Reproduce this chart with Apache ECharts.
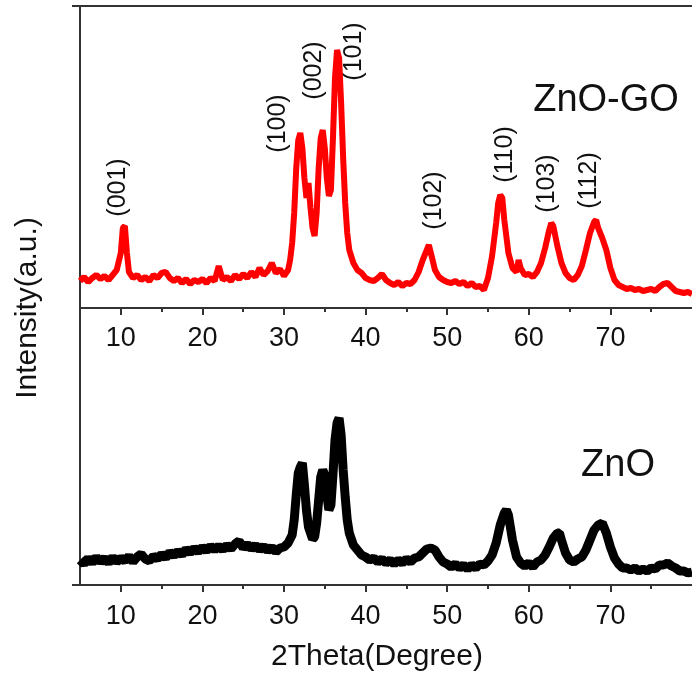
<!DOCTYPE html>
<html>
<head>
<meta charset="utf-8">
<script src="https://cdn.jsdelivr.net/npm/echarts@6/dist/echarts.min.js"></script>
<style>
html,body{margin:0;padding:0;background:#fff;}
#chart{width:692px;height:675px;}
</style>
</head>
<body>
<div id="chart"></div>
<script>
// ---- data (2Theta in degrees, intensity in arbitrary units) ----
const tickValues = [10, 20, 30, 40, 50, 60, 70];
const minorTickValues = [15, 25, 35, 45, 55, 65, 75];

const znoGO = [
[5,27],[5.5,31],[6,26],[6.5,30],[7,33],[7.5,29],[8,32],[8.5,28],[9,33],[9.5,38],
[10,55],[10.25,80],[10.5,82],[10.75,55],[11,36],[11.5,30],[12,33],[12.5,28],[13,31],[13.5,27],
[14,33],[14.5,30],[15,35],[15.5,36],[16,30],[16.5,27],[17,30],[17.5,25],[18,29],[18.5,24],
[19,28],[19.5,26],[20,29],[20.5,25],[21,30],[21.5,27],[22,42],[22.5,28],[23,31],[23.5,27],
[24,33],[24.5,29],[25,34],[25.5,30],[26,36],[26.5,31],[27,40],[27.5,33],[28,37],[28.5,45],
[29,35],[29.5,39],[30,32],[30.5,38],[30.75,48],[31,65],[31.25,95],[31.5,140],[31.75,168],[32,175],
[32.25,160],[32.5,130],[32.75,110],[33,125],[33.25,100],[33.5,80],[33.75,72],[34,95],[34.25,140],[34.5,170],
[34.75,178],[35,160],[35.25,130],[35.5,112],[35.75,118],[36,170],[36.25,230],[36.5,258],[36.75,250],[37,205],
[37.25,150],[37.5,105],[37.75,75],[38,58],[38.5,45],[39,38],[39.5,35],[40,30],[40.5,28],[41,27],
[41.5,30],[42,34],[42.5,28],[43,25],[43.5,23],[44,26],[44.5,22],[45,25],[45.5,24],[46,28],
[46.5,36],[47,48],[47.5,58],[47.75,63],[48,55],[48.5,38],[49,31],[49.5,28],[50,26],[50.5,25],
[51,27],[51.5,24],[52,26],[52.5,22],[53,25],[53.5,21],[54,22],[54.5,18],[55,30],[55.5,52],
[56,85],[56.25,105],[56.5,113],[56.75,110],[57,88],[57.5,55],[58,40],[58.5,36],[58.75,48],[59,40],
[59.5,33],[60,34],[60.5,31],[61,36],[61.5,45],[62,60],[62.5,78],[62.75,85],[63,82],[63.5,62],
[64,45],[64.5,35],[65,30],[65.5,28],[66,33],[66.5,42],[67,58],[67.5,75],[68,86],[68.25,88],
[68.5,80],[69,70],[69.5,58],[70,40],[70.5,28],[71,23],[71.5,21],[72,19],[72.5,20],[73,18],
[73.5,19],[74,17],[74.5,18],[75,19],[75.5,17],[76,21],[76.5,24],[77,25],[77.5,21],[78,17],
[78.5,16],[79,15],[79.5,16],[80,14]
];

const zno = [
[5,25],[5.5,21],[6,27],[6.5,22],[7,28],[7.5,23],[8,27],[8.5,22],[9,28],[9.5,23],
[10,27],[10.5,24],[11,29],[11.5,23],[12,28],[12.5,31],[13,26],[13.5,24],[14,29],[14.5,26],
[15,31],[15.5,27],[16,33],[16.5,29],[17,34],[17.5,30],[18,36],[18.5,32],[19,37],[19.5,33],
[20,38],[20.5,34],[21,39],[21.5,35],[22,39],[22.5,35],[23,40],[23.5,36],[24,41],[24.5,44],
[25,37],[25.5,41],[26,36],[26.5,40],[27,35],[27.5,39],[28,34],[28.5,38],[29,33],[29.5,37],
[30,38],[30.5,42],[31,50],[31.25,65],[31.5,90],[31.75,112],[32,118],[32.25,122],[32.5,100],[32.75,75],
[33,58],[33.5,46],[33.75,48],[34,62],[34.25,85],[34.5,108],[34.75,115],[35,110],[35.25,90],[35.5,75],
[35.75,80],[36,110],[36.25,145],[36.5,162],[36.75,167],[37,150],[37.25,115],[37.5,88],[37.75,65],[38,52],
[38.5,40],[39,35],[39.5,30],[40,28],[40.5,25],[41,27],[41.5,23],[42,26],[42.5,22],[43,25],
[43.5,21],[44,25],[44.5,22],[45,26],[45.5,23],[46,27],[46.5,28],[47,32],[47.5,36],[48,37],
[48.5,35],[49,28],[49.5,23],[50,21],[50.5,18],[51,21],[51.5,17],[52,20],[52.5,16],[53,20],
[53.5,17],[54,21],[54.5,20],[55,24],[55.5,30],[56,42],[56.5,60],[57,72],[57.25,75],[57.5,70],
[58,45],[58.5,28],[59,22],[59.5,19],[60,22],[60.5,18],[61,23],[61.5,25],[62,30],[62.5,38],
[63,47],[63.5,52],[63.75,52],[64,45],[64.5,32],[65,25],[65.5,23],[66,26],[66.5,28],[67,35],
[67.5,45],[68,55],[68.5,60],[69,62],[69.5,52],[70,38],[70.5,27],[71,21],[71.5,17],[72,17],
[72.5,15],[73,17],[73.5,14],[74,16],[74.5,14],[75,17],[75.5,16],[76,20],[76.5,20],[77,22],
[77.5,19],[78,17],[78.5,14],[79,14],[79.5,12],[80,13]
];

// peak (hkl) annotations: label, 2Theta, label height
const peakNames = ['(001)', '(100)', '(002)', '(101)', '(102)', '(110)', '(103)', '(112)'];
const peakTheta = [9.75, 29.4, 33.7, 38.7, 48.5, 57.1, 62.3, 67.4];
const peakLabelY = [120, 184, 237, 256, 107, 153, 124, 127];

const FONT = "'Liberation Sans', Arial, sans-serif";
const AX = '#333';
const TXT = '#111';

const chart = echarts.init(document.getElementById('chart'), null, {renderer: 'canvas'});

function baseX(gridIndex, labelMargin) {
  return {
    type: 'value', gridIndex: gridIndex, min: 5, max: 80, position: 'bottom',
    axisLine: {show: true, onZero: false, lineStyle: {color: AX, width: 2}},
    axisTick: {show: true, inside: false, length: 7, lineStyle: {color: AX, width: 2}, customValues: tickValues},
    axisLabel: {show: true, margin: labelMargin, color: TXT, fontSize: 27, fontFamily: FONT, customValues: tickValues},
    splitLine: {show: false}
  };
}
function minorX(gridIndex) {
  return {
    type: 'value', gridIndex: gridIndex, min: 5, max: 80, position: 'bottom',
    axisLine: {show: false},
    axisTick: {show: true, inside: false, length: 4, lineStyle: {color: AX, width: 2}, customValues: minorTickValues},
    axisLabel: {show: false},
    splitLine: {show: false}
  };
}

const option = {
  backgroundColor: '#fff',
  animation: false,
  grid: [
    {left: 80, right: -3, top: 6, height: 302},
    {left: 80, right: -3, top: 308, height: 277}
  ],
  xAxis: [
    baseX(0, 17),
    minorX(0),
    {type: 'value', gridIndex: 0, min: 5, max: 80, position: 'top',
     axisLine: {show: true, lineStyle: {color: AX, width: 2}}, axisTick: {show: false}, axisLabel: {show: false}, splitLine: {show: false}},
    baseX(1, 18),
    minorX(1)
  ],
  yAxis: [
    {type: 'value', gridIndex: 0, min: 0, max: 302,
     axisLine: {show: true, lineStyle: {color: AX, width: 2}}, axisTick: {show: false}, axisLabel: {show: false}, splitLine: {show: false}},
    {type: 'value', gridIndex: 1, min: 0, max: 277,
     axisLine: {show: true, lineStyle: {color: AX, width: 2}}, axisTick: {show: false}, axisLabel: {show: false}, splitLine: {show: false}}
  ],
  series: [
    {type: 'line', name: 'ZnO-GO', xAxisIndex: 0, yAxisIndex: 0, data: znoGO,
     showSymbol: false, lineStyle: {color: '#ff0000', width: 6}, clip: true, z: 3},
    {type: 'line', name: 'ZnO', xAxisIndex: 3, yAxisIndex: 1, data: zno,
     showSymbol: false, lineStyle: {color: '#000000', width: 9}, clip: true, z: 3},
    {type: 'scatter', xAxisIndex: 0, yAxisIndex: 0, symbolSize: 1, silent: true,
     itemStyle: {color: 'rgba(0,0,0,0)'},
     data: peakNames.map((n, i) => ({name: n, value: [peakTheta[i], peakLabelY[i]]})),
     label: {show: true, position: [0, 0], align: 'center', verticalAlign: 'middle', rotate: 90, formatter: '{b}',
             color: TXT, fontSize: 25, fontFamily: FONT, textBorderWidth: 0, opacity: 1}}
  ],
  graphic: [
    {type: 'text', x: 28, y: 308, rotation: Math.PI / 2,
     style: {text: 'Intensity(a.u.)', fill: TXT, font: '30px ' + FONT, textAlign: 'center', textVerticalAlign: 'middle'}},
    {type: 'text', x: 377, y: 657,
     style: {text: '2Theta(Degree)', fill: TXT, font: '30px ' + FONT, textAlign: 'center', textVerticalAlign: 'middle'}},
    {type: 'text', x: 606, y: 101,
     style: {text: 'ZnO-GO', fill: TXT, font: '38px ' + FONT, textAlign: 'center', textVerticalAlign: 'middle'}},
    {type: 'text', x: 618, y: 466,
     style: {text: 'ZnO', fill: TXT, font: '38px ' + FONT, textAlign: 'center', textVerticalAlign: 'middle'}},
    {type: 'line', shape: {x1: 72, y1: 6, x2: 81, y2: 6}, style: {stroke: AX, lineWidth: 2}},
    {type: 'line', shape: {x1: 72, y1: 585, x2: 81, y2: 585}, style: {stroke: AX, lineWidth: 2}}
  ]
};
chart.setOption(option);
</script>
</body>
</html>
